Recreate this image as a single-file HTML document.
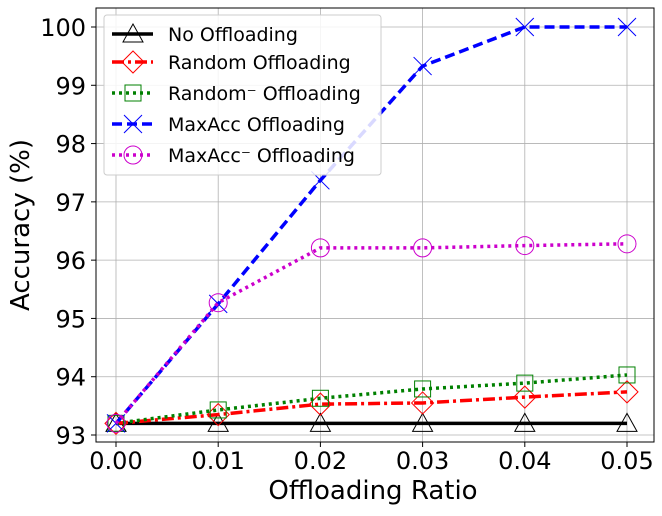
<!DOCTYPE html>
<html><head><meta charset="utf-8"><style>
body{margin:0;background:#fff;font-family:"DejaVu Sans","Liberation Sans",sans-serif}
</style></head><body>
<svg id="chart" width="662" height="512" xmlns="http://www.w3.org/2000/svg" font-family="DejaVu Sans, Liberation Sans, sans-serif"></svg>
<script>
const categories=[0.00,0.01,0.02,0.03,0.04,0.05];
const xTickLabels=["0.00","0.01","0.02","0.03","0.04","0.05"];
const yTicks=[93,94,95,96,97,98,99,100];
const noOff=[93.2,93.2,93.2,93.2,93.2,93.2];
const randomOff=[93.2,93.35,93.53,93.55,93.65,93.74];
const randomMinusOff=[93.2,93.43,93.63,93.79,93.89,94.03];
const maxAccOff=[93.2,95.25,97.37,99.33,100,100];
const maxAccMinusOff=[93.2,95.27,96.21,96.21,96.25,96.28];
const NS="http://www.w3.org/2000/svg";
const svg=document.getElementById('chart');
const L=96,R=654,T=8,B=442;
function xs(v){return 116+(v-0)/0.05*(627-116);}
function ys(v){return 435-(v-93)*(435-27)/7;}
function mk(tag,attrs,parent){const e=document.createElementNS(NS,tag);for(const k in attrs)e.setAttribute(k,attrs[k]);(parent||svg).appendChild(e);return e;}
yTicks.forEach(t=>{const y=ys(t);
 const g=mk('line',{x1:L,x2:R,y1:y,y2:y,stroke:'#b0b0b0','stroke-width':0.8});
 
 
 const tk=mk('line',{x1:L-5,x2:L,y1:y,y2:y,stroke:'#000'});
 
 
 const tx=mk('text',{x:L-10,y:y+9,'text-anchor':'end','font-size':24});tx.textContent=t;
 
 
});
categories.forEach((c,i)=>{const x=xs(c);
 const g=mk('line',{x1:x,x2:x,y1:T,y2:B,stroke:'#b0b0b0','stroke-width':0.8});
 
 
 const tk=mk('line',{x1:x,x2:x,y1:B,y2:B+5,stroke:'#000'});
 
 
 const tx=mk('text',{x:x,y:B+27,'text-anchor':'middle','font-size':24});tx.textContent=xTickLabels[i];
 
 
});
const fr=mk('rect',{x:L,y:T,width:R-L,height:B-T,fill:'none',stroke:'#000','stroke-width':1});


let xl=mk('text',{x:373,y:499,'text-anchor':'middle','font-size':26});xl.textContent='Offloading Ratio';


let yl=mk('text',{x:0,y:0,'text-anchor':'middle','font-size':26,transform:'translate(29,225) rotate(-90)'});yl.textContent='Accuracy (%)';


function marker(type,x,y,color,parent){
 if(type==='tri')return mk('polygon',{points:`${x},${y-10} ${x-10},${y+8} ${x+10},${y+8}`,fill:'none',stroke:color,'stroke-width':1},parent);
 if(type==='dia')return mk('polygon',{points:`${x},${y-11} ${x+11},${y} ${x},${y+11} ${x-11},${y}`,fill:'none',stroke:color,'stroke-width':1},parent);
 if(type==='sq')return mk('rect',{x:x-8,y:y-8,width:16,height:16,fill:'none',stroke:color,'stroke-width':1},parent);
 if(type==='x'){const g=mk('g',{},parent);mk('line',{x1:x-9,y1:y-9,x2:x+9,y2:y+9,stroke:color,'stroke-width':1},g);mk('line',{x1:x-9,y1:y+9,x2:x+9,y2:y-9,stroke:color,'stroke-width':1},g);return g;}
 return mk('circle',{cx:x,cy:y,r:9,fill:'none',stroke:color,'stroke-width':1},parent);
}
const series=[
 {name:'No Offloading',vals:noOff,color:'#000',dash:'',m:'tri',key:'no-offloading'},
 {name:'Random Offloading',vals:randomOff,color:'#ff0000',dash:'12,4,3,4',m:'dia',key:'random-offloading'},
 {name:'Random⁻ Offloading',vals:randomMinusOff,color:'#008000',dash:'3,4',m:'sq',key:'random-minus-offloading'},
 {name:'MaxAcc Offloading',vals:maxAccOff,color:'#0000ff',dash:'10,5',m:'x',key:'maxacc-offloading'},
 {name:'MaxAcc⁻ Offloading',vals:maxAccMinusOff,color:'#cc00cc',dash:'3,4',m:'circ',key:'maxacc-minus-offloading'}
];
series.forEach(s=>{
 const g=mk('g',{});
 
 
 const pts=s.vals.map((v,i)=>xs(categories[i])+','+ys(v)).join(' ');
 const pl=mk('polyline',{points:pts,fill:'none',stroke:s.color,'stroke-width':3.5,'stroke-dasharray':s.dash},g);
 
 
 s.vals.forEach((v,i)=>{const m=marker(s.m,xs(categories[i]),ys(v),s.color,g);
  
  });
});
const lg=mk('g',{});


mk('rect',{x:104,y:15,width:277,height:160,rx:3,fill:'#fff','fill-opacity':0.85,stroke:'#ccc'},lg);
const ly=[34,62,93,124,155];
series.forEach((s,i)=>{
 const e=mk('g',{},lg);
 
 
 mk('line',{x1:112,x2:153,y1:ly[i],y2:ly[i],stroke:s.color,'stroke-width':3.5,'stroke-dasharray':s.dash},e);
 marker(s.m,133,ly[i],s.color,e);
 const t=mk('text',{x:168,y:ly[i]+7,'font-size':19},e);t.textContent=s.name;
});
</script>
</body></html>
